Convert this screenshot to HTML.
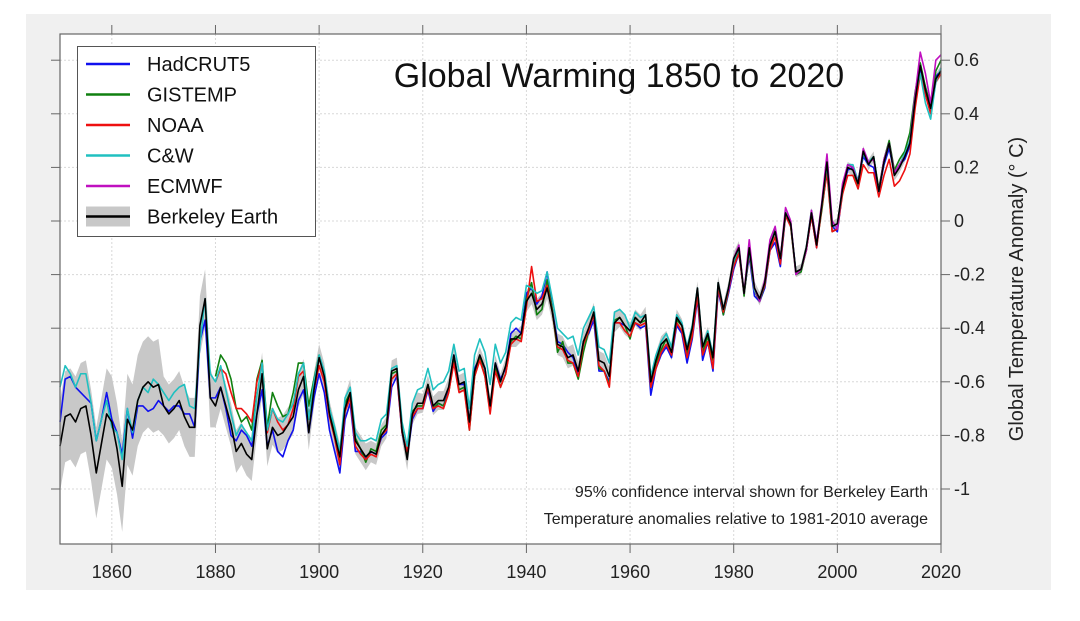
<!DOCTYPE html>
<html><head><meta charset="utf-8">
<style>
html,body{margin:0;padding:0;background:#fff;}
body{width:1080px;height:616px;position:relative;overflow:hidden;font-family:"Liberation Sans",Arial,sans-serif;}
</style></head>
<body>
<svg id="chart" width="1080" height="616" xmlns="http://www.w3.org/2000/svg" font-family="Liberation Sans, Arial, sans-serif">
<rect x="26" y="14" width="1025" height="576" fill="#f0f0f0"/>
<rect x="60" y="34" width="881" height="510" fill="#fff"/>
<g id="grid"></g>
<g id="band"></g>
<g id="lines"></g>
<rect x="60" y="34" width="881" height="510" fill="none" stroke="#666" stroke-width="1.2"/>
<g id="ticks"></g>
<text x="619" y="87" font-size="34" text-anchor="middle" fill="#111">Global Warming 1850 to 2020</text>
<text transform="translate(1023,289) rotate(-90)" font-size="20" text-anchor="middle" fill="#222">Global Temperature Anomaly (° C)</text>
<text x="928" y="497" font-size="16" text-anchor="end" fill="#222">95% confidence interval shown for Berkeley Earth</text>
<text x="928" y="524" font-size="16" text-anchor="end" fill="#222">Temperature anomalies relative to 1981-2010 average</text>
<g>
<rect x="77.5" y="46.5" width="238" height="190" fill="#fff" stroke="#555" stroke-width="1"/>
<g id="legend-items"></g>
</g>
</svg>
<script>
const xTicks=[1860,1880,1900,1920,1940,1960,1980,2000,2020];
const yTicks=[0.6,0.4,0.2,0,-0.2,-0.4,-0.6,-0.8,-1];
const yTickLabels=["0.6","0.4","0.2","0","-0.2","-0.4","-0.6","-0.8","-1"];
const seriesNames=["HadCRUT5","GISTEMP","NOAA","C&W","ECMWF","Berkeley Earth"];
const seriesColors=["#1010ee","#108010","#ee1010","#20c0c0","#c010c0","#000"];
const hadStart=1850;
const hadcrut=[-0.75,-0.59,-0.58,-0.62,-0.64,-0.66,-0.68,-0.82,-0.74,-0.64,-0.74,-0.79,-0.87,-0.70,-0.81,-0.69,-0.69,-0.71,-0.70,-0.67,-0.69,-0.71,-0.69,-0.69,-0.72,-0.72,-0.77,-0.45,-0.37,-0.66,
-0.66,-0.62,-0.70,-0.80,-0.82,-0.78,-0.80,-0.84,-0.72,-0.63,
-0.84,-0.78,-0.86,-0.88,-0.82,-0.78,-0.67,-0.63,-0.79,-0.66,
-0.57,-0.64,-0.78,-0.86,-0.94,-0.74,-0.68,-0.86,-0.86,-0.89,
-0.86,-0.87,-0.81,-0.79,-0.62,-0.58,-0.79,-0.88,-0.74,-0.70,
-0.70,-0.63,-0.71,-0.68,-0.69,-0.63,-0.50,-0.61,-0.61,-0.75,
-0.55,-0.51,-0.55,-0.71,-0.53,-0.59,-0.55,-0.42,-0.40,-0.42,
-0.27,-0.25,-0.31,-0.28,-0.19,-0.33,-0.45,-0.46,-0.49,-0.51,
-0.57,-0.45,-0.42,-0.37,-0.56,-0.56,-0.60,-0.38,-0.38,-0.39,
-0.41,-0.38,-0.40,-0.39,-0.65,-0.55,-0.50,-0.47,-0.51,-0.39,
-0.42,-0.53,-0.44,-0.29,-0.52,-0.45,-0.56,-0.26,-0.35,-0.27,
-0.18,-0.12,-0.27,-0.13,-0.28,-0.30,-0.25,-0.11,-0.08,-0.17,
0.02,-0.01,-0.19,-0.18,-0.11,0.02,-0.10,0.06,0.22,-0.02,
-0.04,0.11,0.19,0.20,0.15,0.24,0.21,0.20,0.11,0.21,
0.27,0.18,0.21,0.23,0.28,0.43,0.57,0.50,0.42,0.54,0.56];
const gisStart=1880;
const gistemp=[-0.58,-0.50,-0.53,-0.59,-0.70,-0.75,-0.73,-0.78,-0.59,-0.52,
-0.77,-0.64,-0.69,-0.73,-0.72,-0.64,-0.53,-0.53,-0.69,-0.59,
-0.50,-0.57,-0.70,-0.79,-0.89,-0.68,-0.64,-0.81,-0.85,-0.90,
-0.85,-0.86,-0.78,-0.76,-0.57,-0.56,-0.78,-0.88,-0.71,-0.69,
-0.69,-0.61,-0.70,-0.68,-0.69,-0.64,-0.52,-0.63,-0.62,-0.78,
-0.58,-0.51,-0.58,-0.71,-0.55,-0.62,-0.57,-0.45,-0.43,-0.44,
-0.29,-0.23,-0.35,-0.33,-0.22,-0.33,-0.49,-0.45,-0.53,-0.53,
-0.59,-0.49,-0.41,-0.34,-0.55,-0.56,-0.61,-0.37,-0.36,-0.39,
-0.44,-0.36,-0.38,-0.37,-0.62,-0.53,-0.48,-0.44,-0.50,-0.37,
-0.39,-0.50,-0.41,-0.26,-0.49,-0.43,-0.52,-0.24,-0.35,-0.26,
-0.16,-0.10,-0.28,-0.11,-0.26,-0.30,-0.24,-0.10,-0.03,-0.15,
0.03,-0.02,-0.20,-0.19,-0.11,0.03,-0.09,0.04,0.19,-0.04,
-0.03,0.12,0.21,0.20,0.12,0.26,0.22,0.24,0.12,0.23,
0.30,0.19,0.23,0.26,0.33,0.48,0.59,0.50,0.43,0.56,0.60];
const noaaStart=1880;
const noaa=[-0.60,-0.55,-0.57,-0.64,-0.70,-0.70,-0.72,-0.75,-0.60,-0.53,
-0.79,-0.70,-0.75,-0.78,-0.76,-0.70,-0.58,-0.56,-0.73,-0.63,
-0.54,-0.60,-0.73,-0.81,-0.91,-0.71,-0.66,-0.84,-0.87,-0.89,
-0.87,-0.88,-0.80,-0.78,-0.59,-0.57,-0.79,-0.86,-0.73,-0.70,
-0.70,-0.62,-0.70,-0.69,-0.70,-0.64,-0.53,-0.64,-0.63,-0.78,
-0.58,-0.52,-0.58,-0.72,-0.56,-0.62,-0.57,-0.46,-0.44,-0.45,
-0.32,-0.17,-0.30,-0.29,-0.24,-0.34,-0.47,-0.48,-0.52,-0.53,
-0.58,-0.46,-0.41,-0.35,-0.54,-0.56,-0.62,-0.38,-0.38,-0.41,
-0.43,-0.38,-0.39,-0.38,-0.62,-0.55,-0.49,-0.46,-0.50,-0.38,
-0.41,-0.51,-0.43,-0.28,-0.50,-0.45,-0.55,-0.25,-0.34,-0.26,
-0.17,-0.12,-0.27,-0.12,-0.26,-0.29,-0.24,-0.11,-0.06,-0.16,
0.02,-0.02,-0.19,-0.18,-0.11,0.02,-0.10,0.05,0.18,-0.04,
-0.03,0.10,0.17,0.17,0.12,0.21,0.18,0.18,0.09,0.17,
0.23,0.13,0.15,0.19,0.25,0.42,0.55,0.47,0.40,0.52,0.55];
const cwStart=1850;
const cw=[-0.62,-0.54,-0.57,-0.62,-0.57,-0.57,-0.68,-0.82,-0.74,-0.67,-0.77,-0.79,-0.89,-0.70,-0.79,-0.67,-0.62,-0.64,-0.59,-0.61,-0.64,-0.67,-0.64,-0.62,-0.61,-0.69,-0.70,-0.46,-0.29,-0.57,
-0.60,-0.54,-0.63,-0.72,-0.80,-0.76,-0.79,-0.82,-0.65,-0.53,
-0.78,-0.70,-0.74,-0.75,-0.72,-0.68,-0.57,-0.53,-0.74,-0.60,
-0.50,-0.56,-0.70,-0.77,-0.86,-0.66,-0.62,-0.79,-0.82,-0.82,
-0.81,-0.82,-0.74,-0.72,-0.55,-0.54,-0.75,-0.84,-0.68,-0.63,
-0.62,-0.55,-0.63,-0.61,-0.60,-0.56,-0.46,-0.56,-0.55,-0.70,
-0.50,-0.44,-0.49,-0.61,-0.46,-0.53,-0.49,-0.38,-0.36,-0.37,
-0.24,-0.25,-0.27,-0.26,-0.19,-0.29,-0.40,-0.42,-0.44,-0.43,
-0.50,-0.40,-0.36,-0.32,-0.47,-0.48,-0.53,-0.34,-0.33,-0.35,
-0.40,-0.34,-0.36,-0.35,-0.58,-0.50,-0.45,-0.42,-0.47,-0.35,
-0.38,-0.47,-0.39,-0.25,-0.47,-0.41,-0.50,-0.23,-0.33,-0.25,
-0.15,-0.10,-0.27,-0.11,-0.26,-0.29,-0.23,-0.09,-0.04,-0.14,
0.03,-0.01,-0.19,-0.18,-0.10,0.04,-0.08,0.06,0.21,-0.02,
-0.02,0.12,0.21,0.21,0.15,0.25,0.22,0.24,0.11,0.22,
0.29,0.17,0.21,0.25,0.30,0.47,0.55,0.44,0.38,0.52,0.57];
const ecStart=1979;
const ecmwf=[-0.26,
-0.14,-0.09,-0.27,-0.07,-0.25,-0.30,-0.22,-0.07,-0.02,-0.14,
0.05,0.00,-0.20,-0.18,-0.11,0.04,-0.08,0.07,0.25,0.00,
-0.03,0.14,0.21,0.20,0.14,0.27,0.22,0.23,0.11,0.23,
0.29,0.18,0.21,0.24,0.29,0.47,0.63,0.55,0.44,0.60,0.62];
const beStart=1850;
const berkeley=[-0.84,-0.73,-0.72,-0.75,-0.70,-0.69,-0.80,-0.94,-0.83,-0.72,-0.75,-0.85,-0.99,-0.74,-0.78,-0.67,-0.62,-0.60,-0.62,-0.61,-0.69,-0.72,-0.70,-0.67,-0.73,-0.77,-0.77,-0.39,-0.29,-0.66,
-0.69,-0.62,-0.69,-0.76,-0.86,-0.83,-0.87,-0.89,-0.72,-0.57,
-0.85,-0.77,-0.80,-0.79,-0.76,-0.73,-0.63,-0.58,-0.79,-0.63,
-0.51,-0.58,-0.72,-0.80,-0.88,-0.70,-0.64,-0.82,-0.85,-0.88,
-0.86,-0.87,-0.80,-0.77,-0.56,-0.55,-0.78,-0.89,-0.72,-0.68,
-0.68,-0.61,-0.69,-0.67,-0.67,-0.62,-0.50,-0.61,-0.60,-0.75,
-0.56,-0.50,-0.55,-0.69,-0.53,-0.60,-0.54,-0.44,-0.44,-0.42,
-0.30,-0.27,-0.33,-0.31,-0.25,-0.34,-0.46,-0.47,-0.51,-0.50,
-0.56,-0.45,-0.40,-0.34,-0.52,-0.53,-0.58,-0.38,-0.36,-0.39,
-0.41,-0.36,-0.38,-0.35,-0.60,-0.52,-0.46,-0.44,-0.49,-0.36,
-0.39,-0.48,-0.40,-0.25,-0.47,-0.42,-0.51,-0.23,-0.33,-0.25,
-0.14,-0.10,-0.27,-0.10,-0.25,-0.29,-0.23,-0.09,-0.04,-0.14,
0.03,-0.01,-0.19,-0.18,-0.10,0.03,-0.09,0.06,0.22,-0.02,
-0.01,0.12,0.20,0.19,0.14,0.26,0.21,0.24,0.11,0.22,
0.29,0.17,0.20,0.24,0.29,0.45,0.58,0.49,0.42,0.53,0.56];
const uncDecadeStart=[1850,1860,1870,1880,1890,1900,1910,1920,1930,1940,1950,1960,1970,1980,1990,2000,2010,2020];
const uncDecade=[0.17,0.17,0.11,0.08,0.065,0.05,0.04,0.035,0.03,0.04,0.035,0.03,0.025,0.025,0.02,0.02,0.02,0.02];

const X0=60,X1=941,Y0=221,YU=268;
function xs(yr){return X0+(yr-1850)*(X1-X0)/170;}
function ys(v){return Y0-v*YU;}
const NS="http://www.w3.org/2000/svg";
function mk(tag,attrs,parent){const e=document.createElementNS(NS,tag);for(const k in attrs)e.setAttribute(k,attrs[k]);parent.appendChild(e);return e;}

const grid=document.getElementById('grid');
xTicks.forEach(t=>{const l=mk('line',{x1:xs(t),x2:xs(t),y1:34,y2:544,stroke:'#d8d8d8','stroke-dasharray':'2,2'},grid);

});
yTicks.forEach(t=>{const l=mk('line',{x1:60,x2:941,y1:ys(t),y2:ys(t),stroke:'#d8d8d8','stroke-dasharray':'2,2'},grid);

});

const ticks=document.getElementById('ticks');
xTicks.forEach(t=>{
 mk('line',{x1:xs(t),x2:xs(t),y1:25,y2:34,stroke:'#666'},ticks);
 mk('line',{x1:xs(t),x2:xs(t),y1:544,y2:553,stroke:'#666'},ticks);
 const tx=mk('text',{x:xs(t),y:578,'font-size':18,'text-anchor':'middle',fill:'#222'},ticks);
 tx.textContent=t;
 
 
});
yTicks.forEach((t,i)=>{
 mk('line',{x1:51,x2:60,y1:ys(t),y2:ys(t),stroke:'#666'},ticks);
 mk('line',{x1:941,x2:950,y1:ys(t),y2:ys(t),stroke:'#666'},ticks);
 const tx=mk('text',{x:954,y:ys(t)+6,'font-size':18,fill:'#222'},ticks);
 tx.textContent=yTickLabels[i];
 
 
});

function uncFor(yr){let u=uncDecade[0];for(let i=0;i<uncDecadeStart.length;i++){if(yr>=uncDecadeStart[i])u=uncDecade[i];}return u;}
let up=[],dn=[];
berkeley.forEach((v,i)=>{const yr=beStart+i;const u=uncFor(yr);up.push(xs(yr)+','+ys(v+u));dn.unshift(xs(yr)+','+ys(v-u));});
const band=mk('polygon',{points:up.concat(dn).join(' '),fill:'#c8c8c8',stroke:'none'},document.getElementById('band'));



const lines=document.getElementById('lines');
const allSeries=[[hadcrut,hadStart],[gistemp,gisStart],[noaa,noaaStart],[cw,cwStart],[ecmwf,ecStart],[berkeley,beStart]];
const lineNames=['hadcrut5-line','gistemp-line','noaa-line','cw-line','ecmwf-line','berkeley-earth-line'];
allSeries.forEach((s,k)=>{
 const pts=s[0].map((v,i)=>xs(s[1]+i).toFixed(2)+','+ys(v).toFixed(2)).join(' ');
 const p=mk('polyline',{points:pts,fill:'none',stroke:seriesColors[k],'stroke-width':1.6,'stroke-linejoin':'round'},lines);
 
 
});

const leg=document.getElementById('legend-items');
seriesNames.forEach((n,i)=>{
 const y=64+i*30.5;
 if(i===5){const r=mk('rect',{x:86,y:y-10,width:44,height:20,fill:'#c8c8c8'},leg);
  
  }
 const l=mk('line',{x1:86,x2:130,y1:y,y2:y,stroke:seriesColors[i],'stroke-width':2.5},leg);
 
 
 const t=mk('text',{x:147,y:y+7,'font-size':20,fill:'#111'},leg);
 t.textContent=n;
 
 
});
</script>
</body></html>
